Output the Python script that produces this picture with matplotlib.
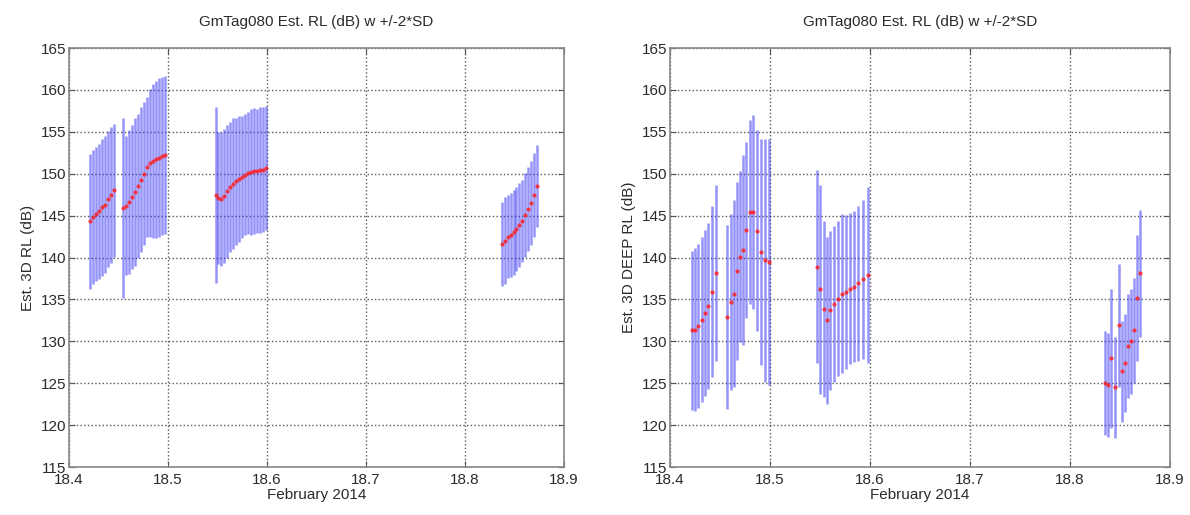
import matplotlib
matplotlib.use('Agg')
import matplotlib.pyplot as plt
import numpy as np

plt.rcParams['font.family'] = ['Liberation Sans', 'DejaVu Sans']

# ── Data: time (day of Feb 2014), estimated RL (dB), 2*SD half-width ─────────
rl3d_t = [18.421, 18.424, 18.427, 18.430, 18.433, 18.436, 18.439, 18.442, 18.445,
          18.455, 18.458, 18.461, 18.464, 18.467, 18.470, 18.473, 18.476, 18.479,
          18.482, 18.485, 18.488, 18.491, 18.494, 18.497,
          18.548, 18.551, 18.554, 18.557, 18.560, 18.563, 18.566, 18.569, 18.572,
          18.575, 18.578, 18.581, 18.584, 18.587, 18.590, 18.593, 18.596, 18.599,
          18.837, 18.840, 18.843, 18.846, 18.849, 18.852, 18.855, 18.858, 18.861,
          18.864, 18.867, 18.870, 18.873]
rl3d = [144.3, 144.8, 145.2, 145.5, 146.0, 146.3, 147.0, 147.5, 148.0,
        145.9, 146.2, 146.6, 147.2, 147.8, 148.5, 149.3, 150.0, 150.8,
        151.3, 151.5, 151.7, 151.9, 152.1, 152.2,
        147.4, 147.1, 147.0, 147.3, 147.9, 148.4, 148.8, 149.1, 149.4,
        149.6, 149.9, 150.1, 150.2, 150.3, 150.3, 150.4, 150.5, 150.7,
        141.6, 142.0, 142.5, 142.7, 143.0, 143.4, 143.9, 144.4, 145.1,
        145.8, 146.5, 147.5, 148.5]
rl3d_sd2 = [8.0, 8.0, 8.0, 8.1, 8.2, 8.2, 8.1, 8.1, 7.9,
            10.7, 8.3, 8.6, 8.6, 8.8, 8.6, 8.6, 8.5, 8.4,
            8.8, 9.2, 9.4, 9.5, 9.4, 9.4,
            10.5, 7.9, 8.0, 8.0, 7.9, 7.8, 7.8, 7.6, 7.5,
            7.3, 7.2, 7.3, 7.5, 7.5, 7.4, 7.5, 7.5, 7.4,
            5.0, 5.2, 5.0, 5.0, 5.1, 5.0, 5.0, 4.9, 5.0,
            5.0, 5.0, 5.0, 4.9]

deep_t = [18.422, 18.425, 18.428, 18.432, 18.435, 18.438, 18.442, 18.446,
          18.457, 18.461, 18.464, 18.467, 18.470, 18.473, 18.476, 18.480, 18.483,
          18.487, 18.491, 18.495, 18.499,
          18.547, 18.550, 18.554, 18.557, 18.560, 18.564, 18.568, 18.572, 18.576,
          18.580, 18.584, 18.588, 18.593, 18.598,
          18.835, 18.838, 18.841, 18.845, 18.849, 18.852, 18.855, 18.858, 18.861,
          18.864, 18.867, 18.870]
deep = [131.3, 131.4, 131.8, 132.6, 133.4, 134.2, 135.9, 138.2,
        132.9, 134.7, 135.7, 138.4, 140.1, 140.9, 143.3, 145.4, 145.4,
        143.2, 140.7, 139.7, 139.5,
        138.9, 136.2, 133.9, 132.5, 133.7, 134.5, 135.1, 135.7, 135.9,
        136.3, 136.5, 136.9, 137.4, 137.9,
        125.0, 124.8, 128.0, 124.5, 131.9, 126.4, 127.4, 129.4, 130.0,
        131.3, 135.2, 138.1]
deep_sd2 = [9.5, 9.7, 9.8, 9.9, 9.9, 9.9, 10.2, 10.5,
            11.0, 10.5, 11.2, 10.6, 10.2, 11.3, 10.5, 11.0, 11.6,
            12.0, 13.5, 14.5, 14.7,
            11.5, 12.5, 10.5, 10.0, 9.5, 9.3, 9.3, 9.5, 9.2,
            9.0, 9.0, 9.3, 9.5, 10.5,
            6.2, 6.2, 8.3, 6.0, 7.3, 6.0, 5.8, 6.2, 6.3,
            6.3, 7.5, 7.6]

title = 'GmTag080 Est. RL (dB) w +/-2*SD'
txt_col = '#2b2b2b'

fig = plt.figure(figsize=(11.9, 5.15), dpi=100, facecolor='white')
ax1 = fig.add_axes([69/1190, 1 - 467/515, 495/1190, 419/515])
ax2 = fig.add_axes([670/1190, 1 - 467/515, 500/1190, 419/515])


def draw(ax, t, rl, sd2, ylabel):
    ax.errorbar(t, rl, yerr=sd2, fmt='none', ecolor='#3a3af5',
                elinewidth=1.8, alpha=0.55, capsize=0, zorder=3)
    ax.plot(t, rl, 'o', color='#ff1a1a', ms=3.0, mec='none', alpha=0.8, zorder=4)
    ax.set_xlim(18.4, 18.9)
    ax.set_ylim(115, 165)
    ax.set_xticks(np.arange(18.4, 18.91, 0.1))
    ax.set_xticklabels(['18.4', '18.5', '18.6', '18.7', '18.8', '18.9'])
    ax.set_yticks(np.arange(115, 166, 5))
    ax.grid(True, linestyle=':', color='#303030', linewidth=1.0, alpha=0.8)
    ax.tick_params(direction='in', length=4, labelsize=11, colors='#555555',
                   labelcolor=txt_col, top=True, right=True)
    ax.tick_params(axis='x', pad=4)
    ax.tick_params(axis='y', pad=2)
    for s in ax.spines.values():
        s.set_color('#888888')
        s.set_linewidth(1.2)
    ax.set_title(title, fontsize=11, color=txt_col, pad=16)
    ax.set_xlabel('February 2014', fontsize=11, color=txt_col, labelpad=1)
    ax.set_ylabel(ylabel, fontsize=11, color=txt_col, labelpad=4)


draw(ax1, rl3d_t, rl3d, rl3d_sd2, 'Est. 3D RL (dB)')
draw(ax2, deep_t, deep, deep_sd2, 'Est. 3D DEEP RL (dB)')

plt.savefig('out.png', dpi=100, facecolor='white')
